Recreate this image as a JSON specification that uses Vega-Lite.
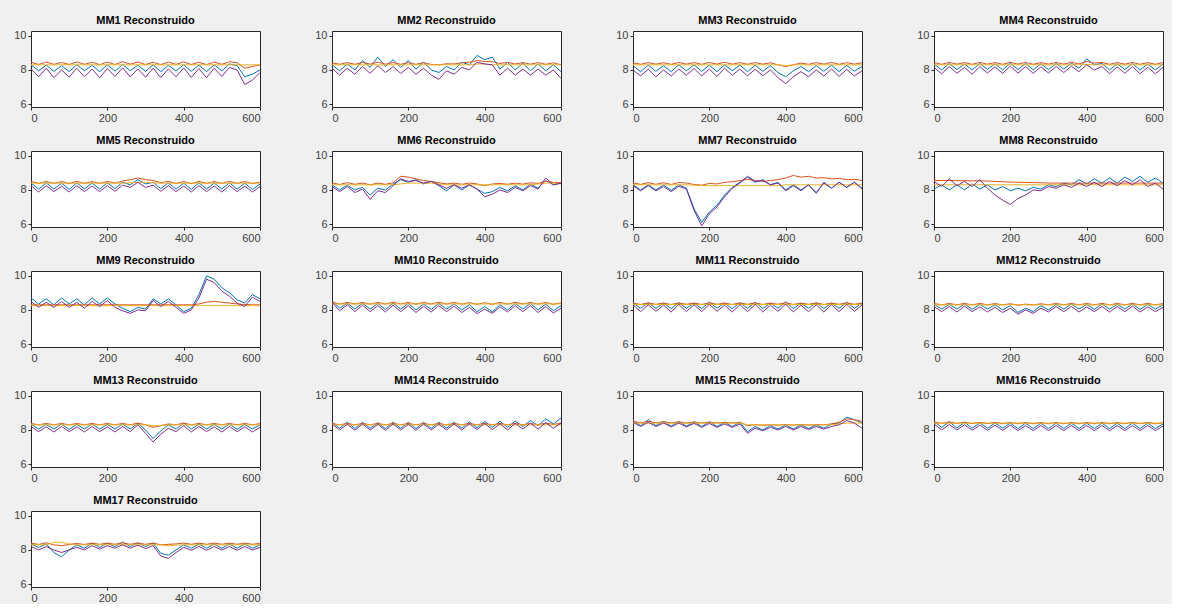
{
"$schema":"https://vega.github.io/schema/vega-lite/v6.json",
"background":"#f0f0f0",
"padding":{"left":13,"top":14,"right":8,"bottom":0},
"data":{"values":[
{"p":"MM1 Reconstruido","x":0,"a":8.3,"b":8.45,"c":8.3,"d":8.05},{"p":"MM1 Reconstruido","x":20,"a":7.95,"b":8.32,"c":8.3,"d":7.6},{"p":"MM1 Reconstruido","x":40,"a":8.28,"b":8.46,"c":8.3,"d":8.1},{"p":"MM1 Reconstruido","x":60,"a":7.92,"b":8.33,"c":8.3,"d":7.55},{"p":"MM1 Reconstruido","x":80,"a":8.25,"b":8.44,"c":8.3,"d":8.0},{"p":"MM1 Reconstruido","x":100,"a":7.9,"b":8.32,"c":8.3,"d":7.58},{"p":"MM1 Reconstruido","x":120,"a":8.3,"b":8.47,"c":8.3,"d":8.1},{"p":"MM1 Reconstruido","x":140,"a":7.95,"b":8.33,"c":8.3,"d":7.6},{"p":"MM1 Reconstruido","x":160,"a":8.27,"b":8.45,"c":8.3,"d":8.05},{"p":"MM1 Reconstruido","x":180,"a":7.9,"b":8.31,"c":8.3,"d":7.55},{"p":"MM1 Reconstruido","x":200,"a":8.3,"b":8.46,"c":8.3,"d":8.08},{"p":"MM1 Reconstruido","x":220,"a":7.93,"b":8.32,"c":8.3,"d":7.62},{"p":"MM1 Reconstruido","x":240,"a":8.32,"b":8.48,"c":8.3,"d":8.12},{"p":"MM1 Reconstruido","x":260,"a":7.95,"b":8.34,"c":8.3,"d":7.6},{"p":"MM1 Reconstruido","x":280,"a":8.28,"b":8.46,"c":8.3,"d":8.05},{"p":"MM1 Reconstruido","x":300,"a":7.92,"b":8.32,"c":8.3,"d":7.58},{"p":"MM1 Reconstruido","x":320,"a":8.3,"b":8.45,"c":8.3,"d":8.1},{"p":"MM1 Reconstruido","x":340,"a":7.9,"b":8.31,"c":8.3,"d":7.55},{"p":"MM1 Reconstruido","x":360,"a":8.27,"b":8.46,"c":8.3,"d":8.06},{"p":"MM1 Reconstruido","x":380,"a":7.94,"b":8.33,"c":8.3,"d":7.6},{"p":"MM1 Reconstruido","x":400,"a":8.3,"b":8.47,"c":8.3,"d":8.12},{"p":"MM1 Reconstruido","x":420,"a":7.92,"b":8.32,"c":8.3,"d":7.57},{"p":"MM1 Reconstruido","x":440,"a":8.28,"b":8.45,"c":8.3,"d":8.08},{"p":"MM1 Reconstruido","x":460,"a":7.9,"b":8.31,"c":8.3,"d":7.55},{"p":"MM1 Reconstruido","x":480,"a":8.3,"b":8.46,"c":8.3,"d":8.1},{"p":"MM1 Reconstruido","x":500,"a":7.95,"b":8.33,"c":8.3,"d":7.62},{"p":"MM1 Reconstruido","x":520,"a":8.35,"b":8.48,"c":8.3,"d":8.15},{"p":"MM1 Reconstruido","x":540,"a":8.25,"b":8.42,"c":8.3,"d":8.0},{"p":"MM1 Reconstruido","x":560,"a":7.6,"b":8.1,"c":8.3,"d":7.15},{"p":"MM1 Reconstruido","x":580,"a":7.75,"b":8.2,"c":8.3,"d":7.4},{"p":"MM1 Reconstruido","x":600,"a":8.0,"b":8.3,"c":8.3,"d":7.85},
{"p":"MM2 Reconstruido","x":0,"a":8.3,"b":8.42,"c":8.3,"d":8.1},{"p":"MM2 Reconstruido","x":20,"a":7.95,"b":8.33,"c":8.3,"d":7.7},{"p":"MM2 Reconstruido","x":40,"a":8.35,"b":8.43,"c":8.3,"d":8.1},{"p":"MM2 Reconstruido","x":60,"a":8.0,"b":8.33,"c":8.3,"d":7.75},{"p":"MM2 Reconstruido","x":80,"a":8.55,"b":8.44,"c":8.3,"d":8.2},{"p":"MM2 Reconstruido","x":100,"a":8.15,"b":8.34,"c":8.3,"d":7.8},{"p":"MM2 Reconstruido","x":120,"a":8.75,"b":8.45,"c":8.3,"d":8.25},{"p":"MM2 Reconstruido","x":140,"a":8.2,"b":8.34,"c":8.3,"d":7.85},{"p":"MM2 Reconstruido","x":160,"a":8.6,"b":8.43,"c":8.3,"d":8.2},{"p":"MM2 Reconstruido","x":180,"a":8.15,"b":8.33,"c":8.3,"d":7.8},{"p":"MM2 Reconstruido","x":200,"a":8.55,"b":8.42,"c":8.3,"d":8.15},{"p":"MM2 Reconstruido","x":220,"a":8.05,"b":8.33,"c":8.3,"d":7.75},{"p":"MM2 Reconstruido","x":240,"a":8.45,"b":8.43,"c":8.3,"d":8.1},{"p":"MM2 Reconstruido","x":260,"a":8.0,"b":8.32,"c":8.3,"d":7.7},{"p":"MM2 Reconstruido","x":280,"a":7.85,"b":8.3,"c":8.3,"d":7.45},{"p":"MM2 Reconstruido","x":300,"a":8.2,"b":8.36,"c":8.3,"d":7.95},{"p":"MM2 Reconstruido","x":320,"a":8.0,"b":8.35,"c":8.3,"d":7.75},{"p":"MM2 Reconstruido","x":340,"a":8.45,"b":8.42,"c":8.3,"d":8.15},{"p":"MM2 Reconstruido","x":360,"a":8.3,"b":8.45,"c":8.3,"d":8.0},{"p":"MM2 Reconstruido","x":380,"a":8.85,"b":8.55,"c":8.35,"d":8.45},{"p":"MM2 Reconstruido","x":400,"a":8.6,"b":8.5,"c":8.35,"d":8.35},{"p":"MM2 Reconstruido","x":420,"a":8.75,"b":8.48,"c":8.3,"d":8.3},{"p":"MM2 Reconstruido","x":440,"a":8.05,"b":8.38,"c":8.3,"d":7.7},{"p":"MM2 Reconstruido","x":460,"a":8.45,"b":8.44,"c":8.3,"d":8.1},{"p":"MM2 Reconstruido","x":480,"a":8.0,"b":8.35,"c":8.3,"d":7.7},{"p":"MM2 Reconstruido","x":500,"a":8.4,"b":8.43,"c":8.3,"d":8.05},{"p":"MM2 Reconstruido","x":520,"a":7.95,"b":8.34,"c":8.3,"d":7.7},{"p":"MM2 Reconstruido","x":540,"a":8.35,"b":8.43,"c":8.3,"d":8.05},{"p":"MM2 Reconstruido","x":560,"a":7.95,"b":8.33,"c":8.3,"d":7.7},{"p":"MM2 Reconstruido","x":580,"a":8.3,"b":8.42,"c":8.3,"d":8.0},{"p":"MM2 Reconstruido","x":600,"a":7.9,"b":8.3,"c":8.3,"d":7.5},
{"p":"MM3 Reconstruido","x":0,"a":8.25,"b":8.42,"c":8.3,"d":8.0},{"p":"MM3 Reconstruido","x":20,"a":7.9,"b":8.33,"c":8.3,"d":7.65},{"p":"MM3 Reconstruido","x":40,"a":8.28,"b":8.43,"c":8.3,"d":8.05},{"p":"MM3 Reconstruido","x":60,"a":7.92,"b":8.34,"c":8.3,"d":7.6},{"p":"MM3 Reconstruido","x":80,"a":8.25,"b":8.42,"c":8.3,"d":8.0},{"p":"MM3 Reconstruido","x":100,"a":7.9,"b":8.33,"c":8.3,"d":7.65},{"p":"MM3 Reconstruido","x":120,"a":8.3,"b":8.44,"c":8.3,"d":8.05},{"p":"MM3 Reconstruido","x":140,"a":7.95,"b":8.34,"c":8.3,"d":7.7},{"p":"MM3 Reconstruido","x":160,"a":8.3,"b":8.43,"c":8.3,"d":8.08},{"p":"MM3 Reconstruido","x":180,"a":7.92,"b":8.33,"c":8.3,"d":7.65},{"p":"MM3 Reconstruido","x":200,"a":8.28,"b":8.44,"c":8.3,"d":8.05},{"p":"MM3 Reconstruido","x":220,"a":7.9,"b":8.34,"c":8.3,"d":7.62},{"p":"MM3 Reconstruido","x":240,"a":8.3,"b":8.45,"c":8.3,"d":8.1},{"p":"MM3 Reconstruido","x":260,"a":7.95,"b":8.34,"c":8.3,"d":7.68},{"p":"MM3 Reconstruido","x":280,"a":8.28,"b":8.43,"c":8.3,"d":8.05},{"p":"MM3 Reconstruido","x":300,"a":7.9,"b":8.33,"c":8.3,"d":7.65},{"p":"MM3 Reconstruido","x":320,"a":8.27,"b":8.43,"c":8.3,"d":8.04},{"p":"MM3 Reconstruido","x":340,"a":7.92,"b":8.34,"c":8.3,"d":7.66},{"p":"MM3 Reconstruido","x":360,"a":8.25,"b":8.42,"c":8.3,"d":8.0},{"p":"MM3 Reconstruido","x":380,"a":7.85,"b":8.3,"c":8.3,"d":7.55},{"p":"MM3 Reconstruido","x":400,"a":7.6,"b":8.2,"c":8.25,"d":7.2},{"p":"MM3 Reconstruido","x":420,"a":7.95,"b":8.3,"c":8.3,"d":7.6},{"p":"MM3 Reconstruido","x":440,"a":8.2,"b":8.4,"c":8.3,"d":7.9},{"p":"MM3 Reconstruido","x":460,"a":7.9,"b":8.33,"c":8.3,"d":7.6},{"p":"MM3 Reconstruido","x":480,"a":8.25,"b":8.43,"c":8.3,"d":8.0},{"p":"MM3 Reconstruido","x":500,"a":7.92,"b":8.34,"c":8.3,"d":7.65},{"p":"MM3 Reconstruido","x":520,"a":8.28,"b":8.44,"c":8.3,"d":8.05},{"p":"MM3 Reconstruido","x":540,"a":7.9,"b":8.33,"c":8.3,"d":7.62},{"p":"MM3 Reconstruido","x":560,"a":8.27,"b":8.43,"c":8.3,"d":8.03},{"p":"MM3 Reconstruido","x":580,"a":7.93,"b":8.34,"c":8.3,"d":7.65},{"p":"MM3 Reconstruido","x":600,"a":8.2,"b":8.42,"c":8.3,"d":7.95},
{"p":"MM4 Reconstruido","x":0,"a":8.35,"b":8.43,"c":8.3,"d":8.15},{"p":"MM4 Reconstruido","x":20,"a":8.0,"b":8.33,"c":8.3,"d":7.78},{"p":"MM4 Reconstruido","x":40,"a":8.38,"b":8.44,"c":8.3,"d":8.2},{"p":"MM4 Reconstruido","x":60,"a":8.02,"b":8.34,"c":8.3,"d":7.8},{"p":"MM4 Reconstruido","x":80,"a":8.35,"b":8.43,"c":8.3,"d":8.15},{"p":"MM4 Reconstruido","x":100,"a":8.0,"b":8.33,"c":8.3,"d":7.75},{"p":"MM4 Reconstruido","x":120,"a":8.38,"b":8.44,"c":8.3,"d":8.2},{"p":"MM4 Reconstruido","x":140,"a":8.03,"b":8.34,"c":8.3,"d":7.82},{"p":"MM4 Reconstruido","x":160,"a":8.36,"b":8.43,"c":8.3,"d":8.18},{"p":"MM4 Reconstruido","x":180,"a":8.0,"b":8.33,"c":8.3,"d":7.8},{"p":"MM4 Reconstruido","x":200,"a":8.4,"b":8.45,"c":8.3,"d":8.22},{"p":"MM4 Reconstruido","x":220,"a":8.02,"b":8.34,"c":8.3,"d":7.82},{"p":"MM4 Reconstruido","x":240,"a":8.38,"b":8.44,"c":8.3,"d":8.2},{"p":"MM4 Reconstruido","x":260,"a":8.0,"b":8.33,"c":8.3,"d":7.8},{"p":"MM4 Reconstruido","x":280,"a":8.36,"b":8.43,"c":8.3,"d":8.18},{"p":"MM4 Reconstruido","x":300,"a":8.02,"b":8.34,"c":8.3,"d":7.82},{"p":"MM4 Reconstruido","x":320,"a":8.38,"b":8.44,"c":8.3,"d":8.2},{"p":"MM4 Reconstruido","x":340,"a":8.05,"b":8.34,"c":8.3,"d":7.85},{"p":"MM4 Reconstruido","x":360,"a":8.4,"b":8.45,"c":8.3,"d":8.22},{"p":"MM4 Reconstruido","x":380,"a":8.1,"b":8.35,"c":8.3,"d":7.9},{"p":"MM4 Reconstruido","x":400,"a":8.65,"b":8.5,"c":8.32,"d":8.3},{"p":"MM4 Reconstruido","x":420,"a":8.3,"b":8.4,"c":8.3,"d":8.0},{"p":"MM4 Reconstruido","x":440,"a":8.38,"b":8.44,"c":8.3,"d":8.2},{"p":"MM4 Reconstruido","x":460,"a":8.0,"b":8.33,"c":8.3,"d":7.78},{"p":"MM4 Reconstruido","x":480,"a":8.36,"b":8.43,"c":8.3,"d":8.18},{"p":"MM4 Reconstruido","x":500,"a":8.02,"b":8.34,"c":8.3,"d":7.8},{"p":"MM4 Reconstruido","x":520,"a":8.38,"b":8.44,"c":8.3,"d":8.2},{"p":"MM4 Reconstruido","x":540,"a":8.0,"b":8.33,"c":8.3,"d":7.78},{"p":"MM4 Reconstruido","x":560,"a":8.35,"b":8.43,"c":8.3,"d":8.15},{"p":"MM4 Reconstruido","x":580,"a":8.0,"b":8.33,"c":8.3,"d":7.78},{"p":"MM4 Reconstruido","x":600,"a":8.35,"b":8.43,"c":8.3,"d":8.15},
{"p":"MM5 Reconstruido","x":0,"a":8.4,"b":8.5,"c":8.4,"d":8.25},{"p":"MM5 Reconstruido","x":20,"a":8.05,"b":8.38,"c":8.4,"d":7.88},{"p":"MM5 Reconstruido","x":40,"a":8.42,"b":8.5,"c":8.4,"d":8.25},{"p":"MM5 Reconstruido","x":60,"a":8.05,"b":8.38,"c":8.4,"d":7.9},{"p":"MM5 Reconstruido","x":80,"a":8.4,"b":8.49,"c":8.4,"d":8.22},{"p":"MM5 Reconstruido","x":100,"a":8.03,"b":8.37,"c":8.4,"d":7.88},{"p":"MM5 Reconstruido","x":120,"a":8.42,"b":8.5,"c":8.4,"d":8.25},{"p":"MM5 Reconstruido","x":140,"a":8.05,"b":8.38,"c":8.4,"d":7.9},{"p":"MM5 Reconstruido","x":160,"a":8.4,"b":8.49,"c":8.4,"d":8.23},{"p":"MM5 Reconstruido","x":180,"a":8.05,"b":8.38,"c":8.4,"d":7.9},{"p":"MM5 Reconstruido","x":200,"a":8.42,"b":8.5,"c":8.4,"d":8.25},{"p":"MM5 Reconstruido","x":220,"a":8.08,"b":8.4,"c":8.4,"d":7.92},{"p":"MM5 Reconstruido","x":240,"a":8.45,"b":8.52,"c":8.4,"d":8.28},{"p":"MM5 Reconstruido","x":260,"a":8.3,"b":8.6,"c":8.42,"d":8.15},{"p":"MM5 Reconstruido","x":280,"a":8.6,"b":8.7,"c":8.45,"d":8.45},{"p":"MM5 Reconstruido","x":300,"a":8.35,"b":8.6,"c":8.45,"d":8.15},{"p":"MM5 Reconstruido","x":320,"a":8.45,"b":8.55,"c":8.42,"d":8.28},{"p":"MM5 Reconstruido","x":340,"a":8.08,"b":8.42,"c":8.4,"d":7.92},{"p":"MM5 Reconstruido","x":360,"a":8.42,"b":8.5,"c":8.4,"d":8.25},{"p":"MM5 Reconstruido","x":380,"a":8.05,"b":8.38,"c":8.4,"d":7.9},{"p":"MM5 Reconstruido","x":400,"a":8.4,"b":8.49,"c":8.4,"d":8.22},{"p":"MM5 Reconstruido","x":420,"a":8.03,"b":8.37,"c":8.4,"d":7.88},{"p":"MM5 Reconstruido","x":440,"a":8.42,"b":8.5,"c":8.4,"d":8.25},{"p":"MM5 Reconstruido","x":460,"a":8.05,"b":8.38,"c":8.4,"d":7.9},{"p":"MM5 Reconstruido","x":480,"a":8.4,"b":8.49,"c":8.4,"d":8.23},{"p":"MM5 Reconstruido","x":500,"a":8.05,"b":8.38,"c":8.4,"d":7.88},{"p":"MM5 Reconstruido","x":520,"a":8.42,"b":8.5,"c":8.4,"d":8.25},{"p":"MM5 Reconstruido","x":540,"a":8.05,"b":8.38,"c":8.4,"d":7.9},{"p":"MM5 Reconstruido","x":560,"a":8.4,"b":8.49,"c":8.4,"d":8.22},{"p":"MM5 Reconstruido","x":580,"a":8.03,"b":8.37,"c":8.4,"d":7.88},{"p":"MM5 Reconstruido","x":600,"a":8.35,"b":8.46,"c":8.4,"d":8.2},
{"p":"MM6 Reconstruido","x":0,"a":8.3,"b":8.42,"c":8.3,"d":8.2},{"p":"MM6 Reconstruido","x":20,"a":8.0,"b":8.32,"c":8.3,"d":7.9},{"p":"MM6 Reconstruido","x":40,"a":8.28,"b":8.43,"c":8.3,"d":8.2},{"p":"MM6 Reconstruido","x":60,"a":8.0,"b":8.33,"c":8.3,"d":7.85},{"p":"MM6 Reconstruido","x":80,"a":8.15,"b":8.4,"c":8.3,"d":8.05},{"p":"MM6 Reconstruido","x":100,"a":7.7,"b":8.3,"c":8.3,"d":7.45},{"p":"MM6 Reconstruido","x":120,"a":8.1,"b":8.4,"c":8.3,"d":7.95},{"p":"MM6 Reconstruido","x":140,"a":8.0,"b":8.33,"c":8.3,"d":7.85},{"p":"MM6 Reconstruido","x":160,"a":8.35,"b":8.42,"c":8.3,"d":8.25},{"p":"MM6 Reconstruido","x":180,"a":8.6,"b":8.8,"c":8.35,"d":8.65},{"p":"MM6 Reconstruido","x":200,"a":8.45,"b":8.75,"c":8.4,"d":8.5},{"p":"MM6 Reconstruido","x":220,"a":8.6,"b":8.65,"c":8.4,"d":8.55},{"p":"MM6 Reconstruido","x":240,"a":8.35,"b":8.55,"c":8.4,"d":8.4},{"p":"MM6 Reconstruido","x":260,"a":8.5,"b":8.5,"c":8.4,"d":8.5},{"p":"MM6 Reconstruido","x":280,"a":8.25,"b":8.42,"c":8.35,"d":8.3},{"p":"MM6 Reconstruido","x":300,"a":7.95,"b":8.35,"c":8.3,"d":8.1},{"p":"MM6 Reconstruido","x":320,"a":8.3,"b":8.4,"c":8.3,"d":8.3},{"p":"MM6 Reconstruido","x":340,"a":8.0,"b":8.33,"c":8.3,"d":8.1},{"p":"MM6 Reconstruido","x":360,"a":8.3,"b":8.4,"c":8.3,"d":8.3},{"p":"MM6 Reconstruido","x":380,"a":8.05,"b":8.35,"c":8.3,"d":8.05},{"p":"MM6 Reconstruido","x":400,"a":7.8,"b":8.25,"c":8.3,"d":7.6},{"p":"MM6 Reconstruido","x":420,"a":7.9,"b":8.35,"c":8.3,"d":7.75},{"p":"MM6 Reconstruido","x":440,"a":8.15,"b":8.38,"c":8.3,"d":8.0},{"p":"MM6 Reconstruido","x":460,"a":7.95,"b":8.33,"c":8.3,"d":7.85},{"p":"MM6 Reconstruido","x":480,"a":8.25,"b":8.4,"c":8.3,"d":8.15},{"p":"MM6 Reconstruido","x":500,"a":8.0,"b":8.34,"c":8.3,"d":7.95},{"p":"MM6 Reconstruido","x":520,"a":8.35,"b":8.42,"c":8.3,"d":8.25},{"p":"MM6 Reconstruido","x":540,"a":8.1,"b":8.38,"c":8.35,"d":8.05},{"p":"MM6 Reconstruido","x":560,"a":8.55,"b":8.5,"c":8.4,"d":8.7},{"p":"MM6 Reconstruido","x":580,"a":8.3,"b":8.45,"c":8.4,"d":8.3},{"p":"MM6 Reconstruido","x":600,"a":8.4,"b":8.42,"c":8.35,"d":8.4},
{"p":"MM7 Reconstruido","x":0,"a":8.3,"b":8.42,"c":8.3,"d":8.25},{"p":"MM7 Reconstruido","x":20,"a":8.0,"b":8.32,"c":8.3,"d":7.95},{"p":"MM7 Reconstruido","x":40,"a":8.3,"b":8.43,"c":8.3,"d":8.25},{"p":"MM7 Reconstruido","x":60,"a":8.0,"b":8.33,"c":8.3,"d":7.95},{"p":"MM7 Reconstruido","x":80,"a":8.28,"b":8.42,"c":8.3,"d":8.2},{"p":"MM7 Reconstruido","x":100,"a":7.98,"b":8.32,"c":8.3,"d":7.9},{"p":"MM7 Reconstruido","x":120,"a":8.3,"b":8.44,"c":8.3,"d":8.22},{"p":"MM7 Reconstruido","x":140,"a":8.1,"b":8.4,"c":8.3,"d":8.05},{"p":"MM7 Reconstruido","x":160,"a":6.9,"b":8.32,"c":8.28,"d":6.8},{"p":"MM7 Reconstruido","x":180,"a":6.1,"b":8.28,"c":8.25,"d":5.9},{"p":"MM7 Reconstruido","x":200,"a":6.7,"b":8.38,"c":8.25,"d":6.6},{"p":"MM7 Reconstruido","x":220,"a":7.1,"b":8.35,"c":8.25,"d":7.0},{"p":"MM7 Reconstruido","x":240,"a":7.7,"b":8.45,"c":8.25,"d":7.6},{"p":"MM7 Reconstruido","x":260,"a":8.15,"b":8.48,"c":8.25,"d":8.1},{"p":"MM7 Reconstruido","x":280,"a":8.45,"b":8.55,"c":8.25,"d":8.4},{"p":"MM7 Reconstruido","x":300,"a":8.75,"b":8.62,"c":8.25,"d":8.8},{"p":"MM7 Reconstruido","x":320,"a":8.45,"b":8.55,"c":8.25,"d":8.5},{"p":"MM7 Reconstruido","x":340,"a":8.6,"b":8.5,"c":8.25,"d":8.55},{"p":"MM7 Reconstruido","x":360,"a":8.3,"b":8.55,"c":8.25,"d":8.3},{"p":"MM7 Reconstruido","x":380,"a":8.45,"b":8.6,"c":8.25,"d":8.4},{"p":"MM7 Reconstruido","x":400,"a":8.0,"b":8.7,"c":8.3,"d":7.95},{"p":"MM7 Reconstruido","x":420,"a":8.3,"b":8.85,"c":8.3,"d":8.25},{"p":"MM7 Reconstruido","x":440,"a":8.0,"b":8.75,"c":8.3,"d":7.95},{"p":"MM7 Reconstruido","x":460,"a":8.3,"b":8.8,"c":8.3,"d":8.3},{"p":"MM7 Reconstruido","x":480,"a":7.85,"b":8.7,"c":8.3,"d":7.8},{"p":"MM7 Reconstruido","x":500,"a":8.4,"b":8.72,"c":8.3,"d":8.45},{"p":"MM7 Reconstruido","x":520,"a":8.1,"b":8.65,"c":8.3,"d":8.1},{"p":"MM7 Reconstruido","x":540,"a":8.45,"b":8.68,"c":8.3,"d":8.45},{"p":"MM7 Reconstruido","x":560,"a":8.15,"b":8.6,"c":8.3,"d":8.15},{"p":"MM7 Reconstruido","x":580,"a":8.45,"b":8.62,"c":8.3,"d":8.45},{"p":"MM7 Reconstruido","x":600,"a":8.1,"b":8.55,"c":8.3,"d":8.05},
{"p":"MM8 Reconstruido","x":0,"a":8.05,"b":8.55,"c":8.3,"d":8.5},{"p":"MM8 Reconstruido","x":20,"a":8.3,"b":8.55,"c":8.3,"d":8.2},{"p":"MM8 Reconstruido","x":40,"a":8.0,"b":8.55,"c":8.3,"d":8.65},{"p":"MM8 Reconstruido","x":60,"a":8.3,"b":8.54,"c":8.3,"d":8.25},{"p":"MM8 Reconstruido","x":80,"a":8.0,"b":8.54,"c":8.3,"d":8.5},{"p":"MM8 Reconstruido","x":100,"a":8.35,"b":8.53,"c":8.3,"d":8.2},{"p":"MM8 Reconstruido","x":120,"a":8.05,"b":8.53,"c":8.3,"d":8.6},{"p":"MM8 Reconstruido","x":140,"a":8.3,"b":8.52,"c":8.3,"d":8.1},{"p":"MM8 Reconstruido","x":160,"a":8.0,"b":8.5,"c":8.3,"d":7.7},{"p":"MM8 Reconstruido","x":180,"a":8.2,"b":8.48,"c":8.3,"d":7.4},{"p":"MM8 Reconstruido","x":200,"a":7.95,"b":8.46,"c":8.3,"d":7.15},{"p":"MM8 Reconstruido","x":220,"a":8.1,"b":8.45,"c":8.3,"d":7.5},{"p":"MM8 Reconstruido","x":240,"a":7.95,"b":8.44,"c":8.3,"d":7.7},{"p":"MM8 Reconstruido","x":260,"a":8.15,"b":8.43,"c":8.3,"d":8.0},{"p":"MM8 Reconstruido","x":280,"a":8.05,"b":8.42,"c":8.3,"d":7.95},{"p":"MM8 Reconstruido","x":300,"a":8.3,"b":8.4,"c":8.3,"d":8.2},{"p":"MM8 Reconstruido","x":320,"a":8.2,"b":8.4,"c":8.3,"d":8.1},{"p":"MM8 Reconstruido","x":340,"a":8.4,"b":8.4,"c":8.3,"d":8.3},{"p":"MM8 Reconstruido","x":360,"a":8.3,"b":8.4,"c":8.3,"d":8.15},{"p":"MM8 Reconstruido","x":380,"a":8.6,"b":8.4,"c":8.3,"d":8.4},{"p":"MM8 Reconstruido","x":400,"a":8.35,"b":8.4,"c":8.3,"d":8.2},{"p":"MM8 Reconstruido","x":420,"a":8.65,"b":8.4,"c":8.3,"d":8.45},{"p":"MM8 Reconstruido","x":440,"a":8.4,"b":8.4,"c":8.3,"d":8.2},{"p":"MM8 Reconstruido","x":460,"a":8.7,"b":8.4,"c":8.3,"d":8.5},{"p":"MM8 Reconstruido","x":480,"a":8.4,"b":8.4,"c":8.3,"d":8.25},{"p":"MM8 Reconstruido","x":500,"a":8.75,"b":8.4,"c":8.3,"d":8.55},{"p":"MM8 Reconstruido","x":520,"a":8.5,"b":8.4,"c":8.3,"d":8.3},{"p":"MM8 Reconstruido","x":540,"a":8.8,"b":8.4,"c":8.3,"d":8.6},{"p":"MM8 Reconstruido","x":560,"a":8.45,"b":8.4,"c":8.3,"d":8.2},{"p":"MM8 Reconstruido","x":580,"a":8.7,"b":8.4,"c":8.3,"d":8.4},{"p":"MM8 Reconstruido","x":600,"a":8.4,"b":8.4,"c":8.3,"d":8.05},
{"p":"MM9 Reconstruido","x":0,"a":8.7,"b":8.3,"c":8.25,"d":8.5},{"p":"MM9 Reconstruido","x":20,"a":8.35,"b":8.3,"c":8.25,"d":8.15},{"p":"MM9 Reconstruido","x":40,"a":8.65,"b":8.3,"c":8.25,"d":8.45},{"p":"MM9 Reconstruido","x":60,"a":8.3,"b":8.3,"c":8.25,"d":8.15},{"p":"MM9 Reconstruido","x":80,"a":8.7,"b":8.3,"c":8.25,"d":8.5},{"p":"MM9 Reconstruido","x":100,"a":8.35,"b":8.3,"c":8.25,"d":8.15},{"p":"MM9 Reconstruido","x":120,"a":8.65,"b":8.3,"c":8.25,"d":8.45},{"p":"MM9 Reconstruido","x":140,"a":8.3,"b":8.3,"c":8.25,"d":8.1},{"p":"MM9 Reconstruido","x":160,"a":8.7,"b":8.3,"c":8.25,"d":8.5},{"p":"MM9 Reconstruido","x":180,"a":8.35,"b":8.3,"c":8.25,"d":8.2},{"p":"MM9 Reconstruido","x":200,"a":8.7,"b":8.3,"c":8.25,"d":8.55},{"p":"MM9 Reconstruido","x":220,"a":8.35,"b":8.3,"c":8.25,"d":8.15},{"p":"MM9 Reconstruido","x":240,"a":8.1,"b":8.3,"c":8.25,"d":7.95},{"p":"MM9 Reconstruido","x":260,"a":7.9,"b":8.3,"c":8.25,"d":7.8},{"p":"MM9 Reconstruido","x":280,"a":8.15,"b":8.3,"c":8.25,"d":8.0},{"p":"MM9 Reconstruido","x":300,"a":8.05,"b":8.3,"c":8.25,"d":7.95},{"p":"MM9 Reconstruido","x":320,"a":8.65,"b":8.3,"c":8.25,"d":8.55},{"p":"MM9 Reconstruido","x":340,"a":8.35,"b":8.3,"c":8.25,"d":8.2},{"p":"MM9 Reconstruido","x":360,"a":8.65,"b":8.3,"c":8.25,"d":8.5},{"p":"MM9 Reconstruido","x":380,"a":8.3,"b":8.3,"c":8.25,"d":8.15},{"p":"MM9 Reconstruido","x":400,"a":7.9,"b":8.3,"c":8.25,"d":7.8},{"p":"MM9 Reconstruido","x":420,"a":8.1,"b":8.3,"c":8.25,"d":8.0},{"p":"MM9 Reconstruido","x":440,"a":8.9,"b":8.35,"c":8.25,"d":8.7},{"p":"MM9 Reconstruido","x":460,"a":10.0,"b":8.45,"c":8.25,"d":9.8},{"p":"MM9 Reconstruido","x":480,"a":9.8,"b":8.5,"c":8.25,"d":9.6},{"p":"MM9 Reconstruido","x":500,"a":9.3,"b":8.45,"c":8.25,"d":9.1},{"p":"MM9 Reconstruido","x":520,"a":9.0,"b":8.4,"c":8.25,"d":8.8},{"p":"MM9 Reconstruido","x":540,"a":8.6,"b":8.35,"c":8.25,"d":8.4},{"p":"MM9 Reconstruido","x":560,"a":8.4,"b":8.32,"c":8.25,"d":8.2},{"p":"MM9 Reconstruido","x":580,"a":8.9,"b":8.3,"c":8.25,"d":8.75},{"p":"MM9 Reconstruido","x":600,"a":8.65,"b":8.3,"c":8.25,"d":8.5},
{"p":"MM10 Reconstruido","x":0,"a":8.55,"b":8.45,"c":8.35,"d":8.45},{"p":"MM10 Reconstruido","x":20,"a":8.1,"b":8.35,"c":8.35,"d":7.95},{"p":"MM10 Reconstruido","x":40,"a":8.4,"b":8.44,"c":8.35,"d":8.3},{"p":"MM10 Reconstruido","x":60,"a":8.05,"b":8.35,"c":8.35,"d":7.9},{"p":"MM10 Reconstruido","x":80,"a":8.4,"b":8.44,"c":8.35,"d":8.28},{"p":"MM10 Reconstruido","x":100,"a":8.05,"b":8.34,"c":8.35,"d":7.9},{"p":"MM10 Reconstruido","x":120,"a":8.38,"b":8.44,"c":8.35,"d":8.25},{"p":"MM10 Reconstruido","x":140,"a":8.02,"b":8.35,"c":8.35,"d":7.88},{"p":"MM10 Reconstruido","x":160,"a":8.4,"b":8.45,"c":8.35,"d":8.28},{"p":"MM10 Reconstruido","x":180,"a":8.05,"b":8.35,"c":8.35,"d":7.9},{"p":"MM10 Reconstruido","x":200,"a":8.38,"b":8.44,"c":8.35,"d":8.25},{"p":"MM10 Reconstruido","x":220,"a":8.0,"b":8.34,"c":8.35,"d":7.85},{"p":"MM10 Reconstruido","x":240,"a":8.35,"b":8.44,"c":8.35,"d":8.22},{"p":"MM10 Reconstruido","x":260,"a":8.03,"b":8.35,"c":8.35,"d":7.88},{"p":"MM10 Reconstruido","x":280,"a":8.38,"b":8.45,"c":8.35,"d":8.25},{"p":"MM10 Reconstruido","x":300,"a":8.05,"b":8.35,"c":8.35,"d":7.9},{"p":"MM10 Reconstruido","x":320,"a":8.35,"b":8.44,"c":8.35,"d":8.22},{"p":"MM10 Reconstruido","x":340,"a":8.0,"b":8.34,"c":8.35,"d":7.85},{"p":"MM10 Reconstruido","x":360,"a":8.3,"b":8.43,"c":8.35,"d":8.15},{"p":"MM10 Reconstruido","x":380,"a":7.9,"b":8.33,"c":8.35,"d":7.78},{"p":"MM10 Reconstruido","x":400,"a":8.2,"b":8.42,"c":8.35,"d":8.05},{"p":"MM10 Reconstruido","x":420,"a":7.88,"b":8.33,"c":8.35,"d":7.8},{"p":"MM10 Reconstruido","x":440,"a":8.3,"b":8.44,"c":8.35,"d":8.18},{"p":"MM10 Reconstruido","x":460,"a":8.0,"b":8.34,"c":8.35,"d":7.88},{"p":"MM10 Reconstruido","x":480,"a":8.38,"b":8.45,"c":8.35,"d":8.25},{"p":"MM10 Reconstruido","x":500,"a":8.05,"b":8.35,"c":8.35,"d":7.9},{"p":"MM10 Reconstruido","x":520,"a":8.38,"b":8.44,"c":8.35,"d":8.25},{"p":"MM10 Reconstruido","x":540,"a":8.0,"b":8.34,"c":8.35,"d":7.85},{"p":"MM10 Reconstruido","x":560,"a":8.35,"b":8.44,"c":8.35,"d":8.2},{"p":"MM10 Reconstruido","x":580,"a":7.95,"b":8.33,"c":8.35,"d":7.82},{"p":"MM10 Reconstruido","x":600,"a":8.25,"b":8.42,"c":8.35,"d":8.1},
{"p":"MM11 Reconstruido","x":0,"a":8.4,"b":8.4,"c":8.32,"d":8.3},{"p":"MM11 Reconstruido","x":20,"a":8.1,"b":8.32,"c":8.32,"d":7.9},{"p":"MM11 Reconstruido","x":40,"a":8.42,"b":8.41,"c":8.32,"d":8.3},{"p":"MM11 Reconstruido","x":60,"a":8.1,"b":8.33,"c":8.32,"d":7.92},{"p":"MM11 Reconstruido","x":80,"a":8.4,"b":8.4,"c":8.32,"d":8.28},{"p":"MM11 Reconstruido","x":100,"a":8.08,"b":8.32,"c":8.32,"d":7.88},{"p":"MM11 Reconstruido","x":120,"a":8.42,"b":8.41,"c":8.32,"d":8.32},{"p":"MM11 Reconstruido","x":140,"a":8.1,"b":8.33,"c":8.32,"d":7.9},{"p":"MM11 Reconstruido","x":160,"a":8.4,"b":8.4,"c":8.32,"d":8.3},{"p":"MM11 Reconstruido","x":180,"a":8.08,"b":8.32,"c":8.32,"d":7.9},{"p":"MM11 Reconstruido","x":200,"a":8.45,"b":8.42,"c":8.32,"d":8.33},{"p":"MM11 Reconstruido","x":220,"a":8.1,"b":8.33,"c":8.32,"d":7.92},{"p":"MM11 Reconstruido","x":240,"a":8.4,"b":8.4,"c":8.32,"d":8.28},{"p":"MM11 Reconstruido","x":260,"a":8.08,"b":8.32,"c":8.32,"d":7.88},{"p":"MM11 Reconstruido","x":280,"a":8.42,"b":8.41,"c":8.32,"d":8.3},{"p":"MM11 Reconstruido","x":300,"a":8.1,"b":8.33,"c":8.32,"d":7.9},{"p":"MM11 Reconstruido","x":320,"a":8.45,"b":8.42,"c":8.32,"d":8.32},{"p":"MM11 Reconstruido","x":340,"a":8.08,"b":8.32,"c":8.32,"d":7.88},{"p":"MM11 Reconstruido","x":360,"a":8.4,"b":8.4,"c":8.32,"d":8.28},{"p":"MM11 Reconstruido","x":380,"a":8.1,"b":8.33,"c":8.32,"d":7.92},{"p":"MM11 Reconstruido","x":400,"a":8.48,"b":8.43,"c":8.32,"d":8.35},{"p":"MM11 Reconstruido","x":420,"a":8.08,"b":8.32,"c":8.32,"d":7.88},{"p":"MM11 Reconstruido","x":440,"a":8.4,"b":8.4,"c":8.32,"d":8.28},{"p":"MM11 Reconstruido","x":460,"a":8.1,"b":8.33,"c":8.32,"d":7.9},{"p":"MM11 Reconstruido","x":480,"a":8.42,"b":8.41,"c":8.32,"d":8.3},{"p":"MM11 Reconstruido","x":500,"a":8.08,"b":8.32,"c":8.32,"d":7.88},{"p":"MM11 Reconstruido","x":520,"a":8.4,"b":8.4,"c":8.32,"d":8.3},{"p":"MM11 Reconstruido","x":540,"a":8.1,"b":8.33,"c":8.32,"d":7.9},{"p":"MM11 Reconstruido","x":560,"a":8.45,"b":8.42,"c":8.32,"d":8.32},{"p":"MM11 Reconstruido","x":580,"a":8.1,"b":8.33,"c":8.32,"d":7.92},{"p":"MM11 Reconstruido","x":600,"a":8.4,"b":8.4,"c":8.32,"d":8.28},
{"p":"MM12 Reconstruido","x":0,"a":8.35,"b":8.38,"c":8.3,"d":8.2},{"p":"MM12 Reconstruido","x":20,"a":8.05,"b":8.3,"c":8.3,"d":7.9},{"p":"MM12 Reconstruido","x":40,"a":8.33,"b":8.38,"c":8.3,"d":8.2},{"p":"MM12 Reconstruido","x":60,"a":8.05,"b":8.3,"c":8.3,"d":7.88},{"p":"MM12 Reconstruido","x":80,"a":8.35,"b":8.38,"c":8.3,"d":8.22},{"p":"MM12 Reconstruido","x":100,"a":8.03,"b":8.3,"c":8.3,"d":7.9},{"p":"MM12 Reconstruido","x":120,"a":8.33,"b":8.38,"c":8.3,"d":8.18},{"p":"MM12 Reconstruido","x":140,"a":8.05,"b":8.3,"c":8.3,"d":7.88},{"p":"MM12 Reconstruido","x":160,"a":8.3,"b":8.37,"c":8.3,"d":8.15},{"p":"MM12 Reconstruido","x":180,"a":8.0,"b":8.3,"c":8.3,"d":7.85},{"p":"MM12 Reconstruido","x":200,"a":8.25,"b":8.36,"c":8.3,"d":8.1},{"p":"MM12 Reconstruido","x":220,"a":7.85,"b":8.28,"c":8.3,"d":7.75},{"p":"MM12 Reconstruido","x":240,"a":8.1,"b":8.34,"c":8.3,"d":8.0},{"p":"MM12 Reconstruido","x":260,"a":7.9,"b":8.29,"c":8.3,"d":7.8},{"p":"MM12 Reconstruido","x":280,"a":8.25,"b":8.36,"c":8.3,"d":8.1},{"p":"MM12 Reconstruido","x":300,"a":8.0,"b":8.3,"c":8.3,"d":7.88},{"p":"MM12 Reconstruido","x":320,"a":8.33,"b":8.38,"c":8.3,"d":8.2},{"p":"MM12 Reconstruido","x":340,"a":8.05,"b":8.3,"c":8.3,"d":7.9},{"p":"MM12 Reconstruido","x":360,"a":8.35,"b":8.38,"c":8.3,"d":8.2},{"p":"MM12 Reconstruido","x":380,"a":8.05,"b":8.3,"c":8.3,"d":7.88},{"p":"MM12 Reconstruido","x":400,"a":8.33,"b":8.38,"c":8.3,"d":8.18},{"p":"MM12 Reconstruido","x":420,"a":8.03,"b":8.3,"c":8.3,"d":7.9},{"p":"MM12 Reconstruido","x":440,"a":8.35,"b":8.38,"c":8.3,"d":8.2},{"p":"MM12 Reconstruido","x":460,"a":8.05,"b":8.3,"c":8.3,"d":7.88},{"p":"MM12 Reconstruido","x":480,"a":8.33,"b":8.38,"c":8.3,"d":8.2},{"p":"MM12 Reconstruido","x":500,"a":8.05,"b":8.3,"c":8.3,"d":7.9},{"p":"MM12 Reconstruido","x":520,"a":8.35,"b":8.38,"c":8.3,"d":8.22},{"p":"MM12 Reconstruido","x":540,"a":8.03,"b":8.3,"c":8.3,"d":7.88},{"p":"MM12 Reconstruido","x":560,"a":8.33,"b":8.38,"c":8.3,"d":8.18},{"p":"MM12 Reconstruido","x":580,"a":8.05,"b":8.3,"c":8.3,"d":7.9},{"p":"MM12 Reconstruido","x":600,"a":8.3,"b":8.37,"c":8.3,"d":8.15},
{"p":"MM13 Reconstruido","x":0,"a":8.35,"b":8.38,"c":8.3,"d":8.2},{"p":"MM13 Reconstruido","x":20,"a":8.05,"b":8.3,"c":8.3,"d":7.9},{"p":"MM13 Reconstruido","x":40,"a":8.33,"b":8.38,"c":8.3,"d":8.18},{"p":"MM13 Reconstruido","x":60,"a":8.05,"b":8.3,"c":8.3,"d":7.88},{"p":"MM13 Reconstruido","x":80,"a":8.35,"b":8.38,"c":8.3,"d":8.2},{"p":"MM13 Reconstruido","x":100,"a":8.03,"b":8.3,"c":8.3,"d":7.9},{"p":"MM13 Reconstruido","x":120,"a":8.33,"b":8.38,"c":8.3,"d":8.18},{"p":"MM13 Reconstruido","x":140,"a":8.05,"b":8.3,"c":8.3,"d":7.88},{"p":"MM13 Reconstruido","x":160,"a":8.35,"b":8.38,"c":8.3,"d":8.2},{"p":"MM13 Reconstruido","x":180,"a":8.05,"b":8.3,"c":8.3,"d":7.9},{"p":"MM13 Reconstruido","x":200,"a":8.33,"b":8.38,"c":8.3,"d":8.18},{"p":"MM13 Reconstruido","x":220,"a":8.05,"b":8.3,"c":8.3,"d":7.88},{"p":"MM13 Reconstruido","x":240,"a":8.35,"b":8.38,"c":8.3,"d":8.2},{"p":"MM13 Reconstruido","x":260,"a":8.05,"b":8.3,"c":8.3,"d":7.9},{"p":"MM13 Reconstruido","x":280,"a":8.4,"b":8.4,"c":8.3,"d":8.3},{"p":"MM13 Reconstruido","x":300,"a":8.0,"b":8.3,"c":8.3,"d":7.8},{"p":"MM13 Reconstruido","x":320,"a":7.5,"b":8.15,"c":8.25,"d":7.3},{"p":"MM13 Reconstruido","x":340,"a":7.95,"b":8.25,"c":8.25,"d":7.75},{"p":"MM13 Reconstruido","x":360,"a":8.3,"b":8.35,"c":8.3,"d":8.1},{"p":"MM13 Reconstruido","x":380,"a":8.05,"b":8.3,"c":8.3,"d":7.9},{"p":"MM13 Reconstruido","x":400,"a":8.4,"b":8.4,"c":8.3,"d":8.25},{"p":"MM13 Reconstruido","x":420,"a":8.05,"b":8.3,"c":8.3,"d":7.88},{"p":"MM13 Reconstruido","x":440,"a":8.35,"b":8.38,"c":8.3,"d":8.2},{"p":"MM13 Reconstruido","x":460,"a":8.05,"b":8.3,"c":8.3,"d":7.9},{"p":"MM13 Reconstruido","x":480,"a":8.33,"b":8.38,"c":8.3,"d":8.18},{"p":"MM13 Reconstruido","x":500,"a":8.05,"b":8.3,"c":8.3,"d":7.88},{"p":"MM13 Reconstruido","x":520,"a":8.35,"b":8.38,"c":8.3,"d":8.2},{"p":"MM13 Reconstruido","x":540,"a":8.03,"b":8.3,"c":8.3,"d":7.9},{"p":"MM13 Reconstruido","x":560,"a":8.33,"b":8.38,"c":8.3,"d":8.18},{"p":"MM13 Reconstruido","x":580,"a":8.05,"b":8.3,"c":8.3,"d":7.88},{"p":"MM13 Reconstruido","x":600,"a":8.3,"b":8.37,"c":8.3,"d":8.15},
{"p":"MM14 Reconstruido","x":0,"a":8.45,"b":8.38,"c":8.3,"d":8.35},{"p":"MM14 Reconstruido","x":20,"a":8.1,"b":8.3,"c":8.3,"d":8.0},{"p":"MM14 Reconstruido","x":40,"a":8.45,"b":8.38,"c":8.3,"d":8.33},{"p":"MM14 Reconstruido","x":60,"a":8.08,"b":8.3,"c":8.3,"d":7.98},{"p":"MM14 Reconstruido","x":80,"a":8.45,"b":8.38,"c":8.3,"d":8.35},{"p":"MM14 Reconstruido","x":100,"a":8.1,"b":8.3,"c":8.3,"d":8.0},{"p":"MM14 Reconstruido","x":120,"a":8.43,"b":8.38,"c":8.3,"d":8.33},{"p":"MM14 Reconstruido","x":140,"a":8.08,"b":8.3,"c":8.3,"d":7.98},{"p":"MM14 Reconstruido","x":160,"a":8.45,"b":8.38,"c":8.3,"d":8.35},{"p":"MM14 Reconstruido","x":180,"a":8.1,"b":8.3,"c":8.3,"d":8.0},{"p":"MM14 Reconstruido","x":200,"a":8.45,"b":8.38,"c":8.3,"d":8.33},{"p":"MM14 Reconstruido","x":220,"a":8.08,"b":8.3,"c":8.3,"d":7.98},{"p":"MM14 Reconstruido","x":240,"a":8.45,"b":8.38,"c":8.3,"d":8.35},{"p":"MM14 Reconstruido","x":260,"a":8.1,"b":8.3,"c":8.3,"d":8.0},{"p":"MM14 Reconstruido","x":280,"a":8.45,"b":8.38,"c":8.3,"d":8.33},{"p":"MM14 Reconstruido","x":300,"a":8.1,"b":8.3,"c":8.3,"d":8.0},{"p":"MM14 Reconstruido","x":320,"a":8.45,"b":8.38,"c":8.3,"d":8.35},{"p":"MM14 Reconstruido","x":340,"a":8.1,"b":8.3,"c":8.3,"d":8.0},{"p":"MM14 Reconstruido","x":360,"a":8.48,"b":8.38,"c":8.3,"d":8.36},{"p":"MM14 Reconstruido","x":380,"a":8.12,"b":8.3,"c":8.3,"d":8.02},{"p":"MM14 Reconstruido","x":400,"a":8.5,"b":8.38,"c":8.3,"d":8.38},{"p":"MM14 Reconstruido","x":420,"a":8.15,"b":8.3,"c":8.3,"d":8.02},{"p":"MM14 Reconstruido","x":440,"a":8.5,"b":8.38,"c":8.3,"d":8.36},{"p":"MM14 Reconstruido","x":460,"a":8.15,"b":8.3,"c":8.3,"d":8.0},{"p":"MM14 Reconstruido","x":480,"a":8.52,"b":8.38,"c":8.3,"d":8.38},{"p":"MM14 Reconstruido","x":500,"a":8.2,"b":8.3,"c":8.3,"d":8.05},{"p":"MM14 Reconstruido","x":520,"a":8.55,"b":8.38,"c":8.3,"d":8.4},{"p":"MM14 Reconstruido","x":540,"a":8.25,"b":8.3,"c":8.3,"d":8.05},{"p":"MM14 Reconstruido","x":560,"a":8.65,"b":8.4,"c":8.3,"d":8.42},{"p":"MM14 Reconstruido","x":580,"a":8.35,"b":8.32,"c":8.3,"d":8.1},{"p":"MM14 Reconstruido","x":600,"a":8.7,"b":8.4,"c":8.3,"d":8.4},
{"p":"MM15 Reconstruido","x":0,"a":8.55,"b":8.5,"c":8.4,"d":8.45},{"p":"MM15 Reconstruido","x":20,"a":8.25,"b":8.42,"c":8.4,"d":8.2},{"p":"MM15 Reconstruido","x":40,"a":8.6,"b":8.5,"c":8.4,"d":8.45},{"p":"MM15 Reconstruido","x":60,"a":8.25,"b":8.42,"c":8.4,"d":8.2},{"p":"MM15 Reconstruido","x":80,"a":8.5,"b":8.48,"c":8.4,"d":8.4},{"p":"MM15 Reconstruido","x":100,"a":8.22,"b":8.41,"c":8.4,"d":8.18},{"p":"MM15 Reconstruido","x":120,"a":8.5,"b":8.48,"c":8.4,"d":8.4},{"p":"MM15 Reconstruido","x":140,"a":8.22,"b":8.4,"c":8.4,"d":8.18},{"p":"MM15 Reconstruido","x":160,"a":8.48,"b":8.47,"c":8.4,"d":8.38},{"p":"MM15 Reconstruido","x":180,"a":8.2,"b":8.4,"c":8.4,"d":8.15},{"p":"MM15 Reconstruido","x":200,"a":8.48,"b":8.46,"c":8.4,"d":8.38},{"p":"MM15 Reconstruido","x":220,"a":8.2,"b":8.4,"c":8.4,"d":8.15},{"p":"MM15 Reconstruido","x":240,"a":8.45,"b":8.45,"c":8.4,"d":8.35},{"p":"MM15 Reconstruido","x":260,"a":8.2,"b":8.4,"c":8.4,"d":8.15},{"p":"MM15 Reconstruido","x":280,"a":8.45,"b":8.45,"c":8.4,"d":8.35},{"p":"MM15 Reconstruido","x":300,"a":7.9,"b":8.25,"c":8.3,"d":7.8},{"p":"MM15 Reconstruido","x":320,"a":8.2,"b":8.3,"c":8.3,"d":8.1},{"p":"MM15 Reconstruido","x":340,"a":8.0,"b":8.28,"c":8.3,"d":7.95},{"p":"MM15 Reconstruido","x":360,"a":8.25,"b":8.3,"c":8.3,"d":8.15},{"p":"MM15 Reconstruido","x":380,"a":8.05,"b":8.28,"c":8.3,"d":8.0},{"p":"MM15 Reconstruido","x":400,"a":8.3,"b":8.32,"c":8.3,"d":8.2},{"p":"MM15 Reconstruido","x":420,"a":8.05,"b":8.28,"c":8.3,"d":8.0},{"p":"MM15 Reconstruido","x":440,"a":8.3,"b":8.32,"c":8.3,"d":8.2},{"p":"MM15 Reconstruido","x":460,"a":8.08,"b":8.28,"c":8.3,"d":8.02},{"p":"MM15 Reconstruido","x":480,"a":8.3,"b":8.32,"c":8.3,"d":8.2},{"p":"MM15 Reconstruido","x":500,"a":8.1,"b":8.3,"c":8.3,"d":8.05},{"p":"MM15 Reconstruido","x":520,"a":8.35,"b":8.35,"c":8.3,"d":8.2},{"p":"MM15 Reconstruido","x":540,"a":8.4,"b":8.45,"c":8.35,"d":8.3},{"p":"MM15 Reconstruido","x":560,"a":8.75,"b":8.65,"c":8.4,"d":8.55},{"p":"MM15 Reconstruido","x":580,"a":8.6,"b":8.6,"c":8.4,"d":8.4},{"p":"MM15 Reconstruido","x":600,"a":8.4,"b":8.5,"c":8.4,"d":8.1},
{"p":"MM16 Reconstruido","x":0,"a":8.5,"b":8.48,"c":8.4,"d":8.35},{"p":"MM16 Reconstruido","x":20,"a":8.15,"b":8.38,"c":8.4,"d":8.0},{"p":"MM16 Reconstruido","x":40,"a":8.48,"b":8.47,"c":8.4,"d":8.32},{"p":"MM16 Reconstruido","x":60,"a":8.12,"b":8.38,"c":8.4,"d":8.0},{"p":"MM16 Reconstruido","x":80,"a":8.45,"b":8.46,"c":8.4,"d":8.3},{"p":"MM16 Reconstruido","x":100,"a":8.1,"b":8.37,"c":8.4,"d":7.98},{"p":"MM16 Reconstruido","x":120,"a":8.42,"b":8.45,"c":8.4,"d":8.28},{"p":"MM16 Reconstruido","x":140,"a":8.1,"b":8.37,"c":8.4,"d":7.98},{"p":"MM16 Reconstruido","x":160,"a":8.42,"b":8.45,"c":8.4,"d":8.28},{"p":"MM16 Reconstruido","x":180,"a":8.1,"b":8.36,"c":8.4,"d":7.98},{"p":"MM16 Reconstruido","x":200,"a":8.4,"b":8.44,"c":8.4,"d":8.28},{"p":"MM16 Reconstruido","x":220,"a":8.08,"b":8.36,"c":8.4,"d":7.96},{"p":"MM16 Reconstruido","x":240,"a":8.4,"b":8.44,"c":8.4,"d":8.26},{"p":"MM16 Reconstruido","x":260,"a":8.08,"b":8.36,"c":8.4,"d":7.96},{"p":"MM16 Reconstruido","x":280,"a":8.4,"b":8.44,"c":8.4,"d":8.26},{"p":"MM16 Reconstruido","x":300,"a":8.08,"b":8.36,"c":8.4,"d":7.96},{"p":"MM16 Reconstruido","x":320,"a":8.4,"b":8.44,"c":8.4,"d":8.26},{"p":"MM16 Reconstruido","x":340,"a":8.08,"b":8.36,"c":8.4,"d":7.96},{"p":"MM16 Reconstruido","x":360,"a":8.4,"b":8.44,"c":8.4,"d":8.26},{"p":"MM16 Reconstruido","x":380,"a":8.08,"b":8.36,"c":8.4,"d":7.96},{"p":"MM16 Reconstruido","x":400,"a":8.4,"b":8.44,"c":8.4,"d":8.26},{"p":"MM16 Reconstruido","x":420,"a":8.08,"b":8.36,"c":8.4,"d":7.96},{"p":"MM16 Reconstruido","x":440,"a":8.4,"b":8.44,"c":8.4,"d":8.26},{"p":"MM16 Reconstruido","x":460,"a":8.08,"b":8.36,"c":8.4,"d":7.96},{"p":"MM16 Reconstruido","x":480,"a":8.4,"b":8.44,"c":8.4,"d":8.26},{"p":"MM16 Reconstruido","x":500,"a":8.08,"b":8.36,"c":8.4,"d":7.96},{"p":"MM16 Reconstruido","x":520,"a":8.4,"b":8.44,"c":8.4,"d":8.26},{"p":"MM16 Reconstruido","x":540,"a":8.08,"b":8.36,"c":8.4,"d":7.96},{"p":"MM16 Reconstruido","x":560,"a":8.4,"b":8.44,"c":8.4,"d":8.26},{"p":"MM16 Reconstruido","x":580,"a":8.08,"b":8.36,"c":8.4,"d":7.96},{"p":"MM16 Reconstruido","x":600,"a":8.35,"b":8.42,"c":8.4,"d":8.22},
{"p":"MM17 Reconstruido","x":0,"a":8.35,"b":8.4,"c":8.3,"d":8.2},{"p":"MM17 Reconstruido","x":20,"a":8.15,"b":8.32,"c":8.3,"d":8.0},{"p":"MM17 Reconstruido","x":40,"a":8.35,"b":8.42,"c":8.3,"d":8.2},{"p":"MM17 Reconstruido","x":60,"a":7.85,"b":8.3,"c":8.45,"d":8.0},{"p":"MM17 Reconstruido","x":80,"a":7.6,"b":8.25,"c":8.45,"d":7.85},{"p":"MM17 Reconstruido","x":100,"a":8.0,"b":8.32,"c":8.35,"d":8.0},{"p":"MM17 Reconstruido","x":120,"a":8.3,"b":8.38,"c":8.3,"d":8.15},{"p":"MM17 Reconstruido","x":140,"a":8.1,"b":8.32,"c":8.3,"d":8.0},{"p":"MM17 Reconstruido","x":160,"a":8.4,"b":8.4,"c":8.3,"d":8.25},{"p":"MM17 Reconstruido","x":180,"a":8.15,"b":8.33,"c":8.3,"d":8.05},{"p":"MM17 Reconstruido","x":200,"a":8.4,"b":8.4,"c":8.3,"d":8.25},{"p":"MM17 Reconstruido","x":220,"a":8.2,"b":8.33,"c":8.3,"d":8.1},{"p":"MM17 Reconstruido","x":240,"a":8.45,"b":8.42,"c":8.3,"d":8.3},{"p":"MM17 Reconstruido","x":260,"a":8.2,"b":8.33,"c":8.3,"d":8.1},{"p":"MM17 Reconstruido","x":280,"a":8.42,"b":8.4,"c":8.3,"d":8.28},{"p":"MM17 Reconstruido","x":300,"a":8.2,"b":8.33,"c":8.3,"d":8.08},{"p":"MM17 Reconstruido","x":320,"a":8.4,"b":8.4,"c":8.3,"d":8.25},{"p":"MM17 Reconstruido","x":340,"a":7.8,"b":8.3,"c":8.3,"d":7.65},{"p":"MM17 Reconstruido","x":360,"a":7.7,"b":8.33,"c":8.25,"d":7.5},{"p":"MM17 Reconstruido","x":380,"a":8.0,"b":8.35,"c":8.28,"d":7.85},{"p":"MM17 Reconstruido","x":400,"a":8.3,"b":8.4,"c":8.3,"d":8.15},{"p":"MM17 Reconstruido","x":420,"a":8.1,"b":8.33,"c":8.3,"d":7.98},{"p":"MM17 Reconstruido","x":440,"a":8.35,"b":8.4,"c":8.3,"d":8.2},{"p":"MM17 Reconstruido","x":460,"a":8.1,"b":8.33,"c":8.3,"d":7.98},{"p":"MM17 Reconstruido","x":480,"a":8.35,"b":8.4,"c":8.3,"d":8.2},{"p":"MM17 Reconstruido","x":500,"a":8.1,"b":8.33,"c":8.3,"d":8.0},{"p":"MM17 Reconstruido","x":520,"a":8.35,"b":8.4,"c":8.3,"d":8.2},{"p":"MM17 Reconstruido","x":540,"a":8.1,"b":8.33,"c":8.3,"d":7.98},{"p":"MM17 Reconstruido","x":560,"a":8.35,"b":8.4,"c":8.3,"d":8.2},{"p":"MM17 Reconstruido","x":580,"a":8.1,"b":8.33,"c":8.3,"d":8.0},{"p":"MM17 Reconstruido","x":600,"a":8.3,"b":8.38,"c":8.3,"d":8.15}
]},
"transform":[{"fold":["a","b","c","d"],"as":["s","v"]}],
"facet":{"field":"p","type":"nominal","sort":["MM1 Reconstruido","MM2 Reconstruido","MM3 Reconstruido","MM4 Reconstruido","MM5 Reconstruido","MM6 Reconstruido","MM7 Reconstruido","MM8 Reconstruido","MM9 Reconstruido","MM10 Reconstruido","MM11 Reconstruido","MM12 Reconstruido","MM13 Reconstruido","MM14 Reconstruido","MM15 Reconstruido","MM16 Reconstruido","MM17 Reconstruido"],"header":{"title":null,"labelFont":"Liberation Sans","labelFontWeight":"bold","labelFontSize":11,"labelColor":"#000000","labelPadding":4}},
"columns":4,
"spacing":{"column":53,"row":10},
"resolve":{"axis":{"x":"independent","y":"independent"}},
"spec":{
"width":229,"height":76,
"mark":{"type":"line","strokeWidth":1,"clip":true},
"encoding":{
"x":{"field":"x","type":"quantitative","scale":{"domain":[0,600],"nice":false},"axis":{"values":[0,200,400,600],"title":null}},
"y":{"field":"v","type":"quantitative","scale":{"domain":[5.83,10.28],"nice":false,"zero":false},"axis":{"values":[6,8,10],"title":null}},
"color":{"field":"s","type":"nominal","scale":{"domain":["a","b","c","d"],"range":["#0072BD","#D95319","#EDB120","#7E2F8E"]},"legend":null}
}
},
"config":{
"view":{"stroke":"#262626","strokeWidth":1,"fill":"#ffffff"},
"axis":{"grid":false,"domain":false,"tickSize":3,"tickColor":"#262626","labelFont":"Liberation Sans","labelFontSize":11,"labelColor":"#404040","labelPadding":2}
}
}
